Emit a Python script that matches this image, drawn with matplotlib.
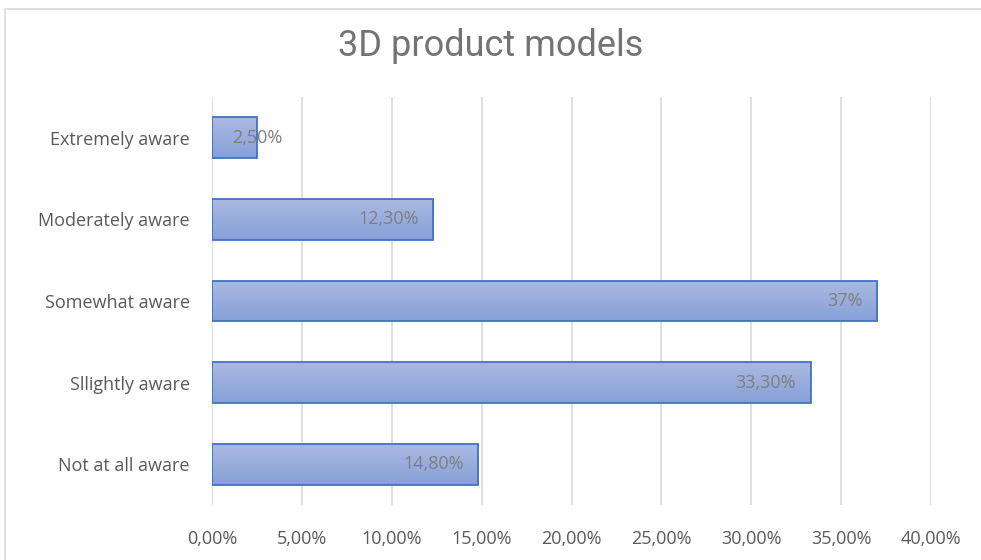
import numpy as np
import matplotlib.pyplot as plt
from matplotlib import font_manager
from matplotlib.colors import LinearSegmentedColormap

categories = ['Not at all aware', 'Sllightly aware', 'Somewhat aware', 'Moderately aware', 'Extremely aware']
values = [14.8, 33.3, 37.0, 12.3, 2.5]
labels = ['14,80%', '33,30%', '37%', '12,30%', '2,50%']
ticks = [0, 5, 10, 15, 20, 25, 30, 35, 40]
tick_labels = ['0,00%', '5,00%', '10,00%', '15,00%', '20,00%', '25,00%', '30,00%', '35,00%', '40,00%']

names = {f.name for f in font_manager.fontManager.ttflist}
body_font = 'Liberation Sans Narrow' if 'Liberation Sans Narrow' in names else 'Open Sans'

fig = plt.figure(figsize=(9.81, 5.6), dpi=100)
ax = fig.add_axes([212 / 981, 1 - 505 / 560, 719 / 981, 408 / 560])

# chart border like Excel
fig.patches.append(plt.Rectangle((5 / 981, -0.1), 1.2, 1 - 9 / 560 + 0.1, transform=fig.transFigure,
                                 fill=False, edgecolor='#d9d9d9', linewidth=1.2))

y = np.arange(len(categories))
bars = ax.barh(y, values, height=0.5, color='none', edgecolor='#4472c4', linewidth=1.3, zorder=3)

# vertical gradient fill, lighter at the top
grad = np.linspace(0, 1, 100).reshape(-1, 1)
cmap = LinearSegmentedColormap.from_list('g', ['#87a0d8', '#aab9e1'])
for b in bars:
    x0, y0, w, h = b.get_x(), b.get_y(), b.get_width(), b.get_height()
    im = ax.imshow(grad, extent=[x0, x0 + w, y0 + h, y0], origin='upper', aspect='auto', cmap=cmap, zorder=2)
    im.set_clip_path(b)

for v, yy, lab in zip(values, y, labels):
    if v < 5:
        ax.text(v, yy, lab, ha='center', va='center', color='#7f7f7f', fontsize=13, family=body_font, zorder=4)
    else:
        ax.text(v - 0.8, yy, lab, ha='right', va='center', color='#7f7f7f', fontsize=13, family=body_font, zorder=4)

ax.set_xlim(0, 40)
ax.set_ylim(-0.5, 4.5)
ax.set_xticks(ticks)
ax.set_xticklabels(tick_labels, family=body_font, fontsize=13, color='#595959')
ax.set_yticks(y)
ax.set_yticklabels(categories, family=body_font, fontsize=13, color='#595959')
ax.tick_params(length=0, pad=18)
ax.tick_params(axis='y', pad=16)
ax.grid(axis='x', color='#d9d9d9', linewidth=1.2, zorder=0)
ax.set_axisbelow(True)
for s in ax.spines.values():
    s.set_visible(False)

fig.text(0.5, 1 - 46 / 560, '3D product models', ha='center', va='center', fontsize=26,
         color='#737373', family='Roboto')

fig.savefig('out.png', dpi=100)
